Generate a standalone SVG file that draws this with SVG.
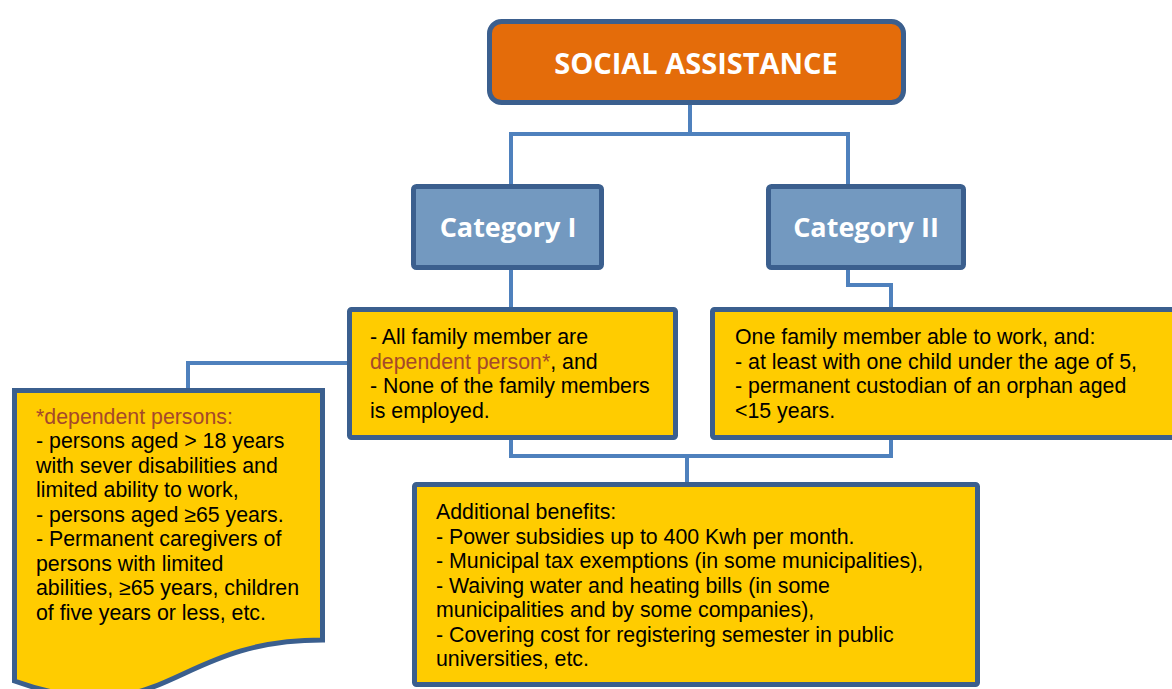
<svg xmlns="http://www.w3.org/2000/svg" width="1172" height="689" viewBox="0 0 1172 689">
<style>
.conn{fill:none;stroke:#4F81BD;stroke-width:4}
.box{stroke:#3B5F8E;stroke-width:5}
.yel{fill:#FFCC00}
.cat{fill:#7399C0}
.hd{font-family:"Open Sans","DejaVu Sans",sans-serif;font-weight:bold;fill:#FFFFFF;text-anchor:middle}
.tx{font-family:"Liberation Sans",Arial,sans-serif;font-size:21.33px;fill:#000000}
.red{fill:#A5492A}
</style>
<rect width="1172" height="689" fill="#FFFFFF"/>
<g id="connectors">
<path class="conn" d="M690,105 V134"/>
<path class="conn" d="M511,184 V134 H848 V184"/>
<path class="conn" d="M511,270 V307"/>
<path class="conn" d="M848,270 V285 H891 V307"/>
<path class="conn" d="M347,363 H188 V388"/>
<path class="conn" d="M511,440 V456 H891 V440"/>
<path class="conn" d="M687,456 V482"/>
</g>
<g id="social-assistance">
<rect class="box" x="489.5" y="21.5" width="414" height="81" rx="12" fill="#E46C0A"/>
<text class="hd" x="696" y="74" font-size="29">SOCIAL ASSISTANCE</text>
</g>
<g id="category-1">
<rect class="box cat" x="413.5" y="186.5" width="188" height="81" rx="3"/>
<text class="hd" x="508" y="237" font-size="27">Category I</text>
</g>
<g id="category-2">
<rect class="box cat" x="768.5" y="186.5" width="195" height="81" rx="3"/>
<text class="hd" x="866" y="237" font-size="27">Category II</text>
</g>
<g id="cat1-criteria">
<rect class="box yel" x="349.5" y="309.5" width="326" height="128" rx="2"/>
<text class="tx" x="370" y="344">- All family member are</text>
<text class="tx" x="370" y="368.5"><tspan class="red">dependent person*</tspan>, and</text>
<text class="tx" x="370" y="393">- None of the family members</text>
<text class="tx" x="370" y="417.5">is employed.</text>
</g>
<g id="cat2-criteria">
<rect class="box yel" x="712.5" y="309.5" width="480" height="128" rx="2"/>
<text class="tx" x="735" y="344">One family member able to work, and:</text>
<text class="tx" x="735" y="368.5">- at least with one child under the age of 5,</text>
<text class="tx" x="735" y="393">- permanent custodian of an orphan aged</text>
<text class="tx" x="735" y="417.5">&lt;15 years.</text>
</g>
<g id="dependent-persons">
<path class="box yel" d="M14.5,390.5 H322.5 V640 C168,640 168,735 14.5,681 Z"/>
<text class="tx red" x="36" y="423.5">*dependent persons:</text>
<text class="tx" x="36" y="448">- persons aged &gt; 18 years</text>
<text class="tx" x="36" y="472.5">with sever disabilities and</text>
<text class="tx" x="36" y="497">limited ability to work,</text>
<text class="tx" x="36" y="521.5">- persons aged ≥65 years.</text>
<text class="tx" x="36" y="546">- Permanent caregivers of</text>
<text class="tx" x="36" y="570.5">persons with limited</text>
<text class="tx" x="36" y="595">abilities, ≥65 years, children</text>
<text class="tx" x="36" y="619.5">of five years or less, etc.</text>
</g>
<g id="additional-benefits">
<rect class="box yel" x="414.5" y="484.5" width="563" height="200" rx="2"/>
<text class="tx" x="436" y="519">Additional benefits:</text>
<text class="tx" x="436" y="543.5">- Power subsidies up to 400 Kwh per month.</text>
<text class="tx" x="436" y="568">- Municipal tax exemptions (in some municipalities),</text>
<text class="tx" x="436" y="592.5">- Waiving water and heating bills (in some</text>
<text class="tx" x="436" y="617">municipalities and by some companies),</text>
<text class="tx" x="436" y="641.5">- Covering cost for registering semester in public</text>
<text class="tx" x="436" y="666">universities, etc.</text>
</g>
</svg>
